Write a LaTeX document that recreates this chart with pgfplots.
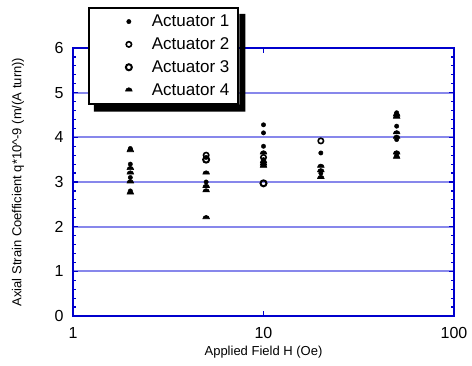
\documentclass[border=0pt]{standalone}
\usepackage{fontspec}
\setmainfont{Liberation Sans}
\usepackage{pgfplots}
\pgfplotsset{compat=1.18}
\usetikzlibrary{plotmarks}
\definecolor{frameblue}{RGB}{0,0,205}
\definecolor{gridblue}{RGB}{135,135,235}
\pgfdeclareplotmark{dome}{%
  \pgfpathmoveto{\pgfqpoint{-\pgfplotmarksize}{-0.3\pgfplotmarksize}}%
  \pgfpatharc{180}{0}{\pgfplotmarksize}%
  \pgfpathclose\pgfusepathqfillstroke}
\pgfplotsset{myleg/.style={legend image code/.code={\path[draw=none,fill=none] (0pt,-3pt) rectangle (54pt,3pt);\draw[mark repeat=2,mark phase=2,##1] plot coordinates {(0pt,0pt)(32pt,0pt)(54pt,0pt)};}}}
\begin{document}
\begin{tikzpicture}
\begin{axis}[
 at={(0,0)}, anchor=south west,
 scale only axis, width=381pt, height=268pt,
 xmode=log, log basis x=10, xmin=1, xmax=100, ymin=0, ymax=6,
 xtick={1,10,100}, xticklabels={1,10,100},
 ytick={0,1,2,3,4,5,6},
 minor y tick num=4,
 ymajorgrids, major grid style={gridblue, line width=2pt},
 axis line style={frameblue, line width=1.5pt},
 tick style={frameblue, line width=1.2pt},
 tick align=inside,
 major tick length=5pt, minor tick length=3pt,
 ticklabel style={font=\fontsize{16}{16}\selectfont},
 xticklabel style={yshift=-8pt},
 yticklabel style={xshift=-6pt},
 /pgf/number format/assume math mode=true,
 xlabel={Applied Field H (Oe)},
 ylabel={Axial Strain Coefficient q*10\^{}-9 (m/(A turn))},
 label style={font=\fontsize{13}{13}\selectfont},
 xlabel style={at={(axis description cs:0.5,-0.134)}, anchor=center},
 ylabel style={at={(axis description cs:-0.144,0.5)}, anchor=center},
 legend cell align=left,
 legend style={name=myleg, at={(axis description cs:0.039,1.153)}, anchor=north west,
   draw=black, line width=2pt, fill=white,
   font=\fontsize{17}{17}\selectfont, inner xsep=8pt, inner ysep=6pt,
   nodes={inner sep=1pt}, row sep=7.5pt},
]
\addplot[only marks, myleg, mark=*, mark size=2.2pt, mark options={black, fill=black, line width=0.4pt}]
 coordinates {(2,3.75)(2,3.4)(2,3.1)(2,2.8)(5,3.55)(5,3.0)(10,4.28)(10,4.1)(10,3.8)(10,3.5)(20,3.65)(20,3.2)(50,4.55)(50,4.25)(50,3.95)(50,3.6)};
\addlegendentry{Actuator 1}
\addplot[only marks, myleg, mark=o, mark size=2.7pt, mark options={black, line width=1.6pt}]
 coordinates {(5,3.6)(20,3.92)(10,3.55)};
\addlegendentry{Actuator 2}
\addplot[only marks, myleg, mark=o, mark size=3pt, mark options={black, line width=2pt}]
 coordinates {(10,2.97)(5,3.5)};
\addlegendentry{Actuator 3}
\addplot[only marks, myleg, mark=dome, mark size=3.3pt, mark options={black, fill=black, line width=0.6pt}]
 coordinates {(2,3.7)(2,3.3)(2,3.2)(2,3.0)(2,2.75)(5,3.2)(5,2.9)(5,2.8)(5,2.2)(10,3.65)(10,3.45)(10,3.4)(10,3.35)(20,3.35)(20,3.25)(20,3.1)(50,4.5)(50,4.45)(50,4.1)(50,4.0)(50,3.65)(50,3.55)};
\addlegendentry{Actuator 4}
\end{axis}
\fill[black] ([yshift=-7pt]myleg.north east) -- ([xshift=6pt,yshift=-7pt]myleg.north east)
  -- ([xshift=6pt,yshift=-7pt]myleg.south east) -- ([xshift=6pt,yshift=-7pt]myleg.south west)
  -- ([xshift=6pt]myleg.south west) -- (myleg.south east) -- cycle;
\pgfresetboundingbox
\path[use as bounding box] (-73pt,-50pt) rectangle (399pt,316pt);
\end{tikzpicture}
\end{document}
